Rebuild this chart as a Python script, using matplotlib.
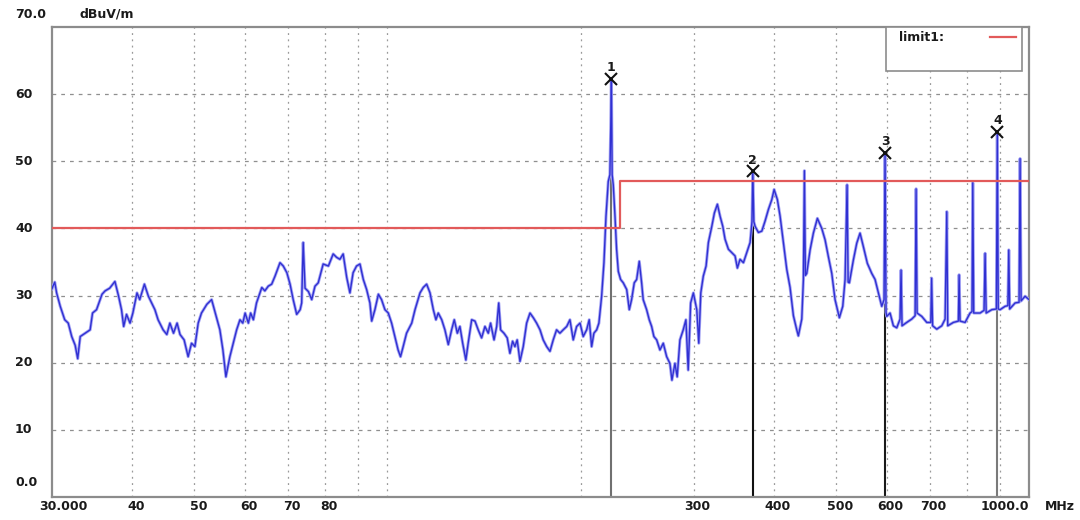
import matplotlib
matplotlib.use('Agg')
import matplotlib.pyplot as plt
from matplotlib.patches import Rectangle

# ---------------- data ----------------
freq_mhz = [
    30.0, 30.1, 30.3, 30.5, 30.9, 31.4, 31.8, 32.2, 32.6, 32.9, 33.2, 33.8, 34.4, 34.7, 35.2,
    35.9, 36.3, 36.9, 37.6, 38.1, 38.5, 38.8, 39.2, 39.7, 40.1, 40.7, 41.1, 41.8, 42.4, 42.9,
    43.4, 43.9, 44.7, 45.3, 45.8, 46.4, 47.0, 47.5, 48.2, 48.9, 49.5, 50.1, 50.7, 51.3, 52.3,
    53.2, 53.9, 54.8, 55.4, 56.0, 56.8, 57.5, 58.2,
    58.9, 59.5, 60.0, 60.7, 61.2, 61.8, 62.5, 63.7, 64.4, 65.2, 66.0, 66.8, 68.0, 68.8, 69.7,
    70.5, 71.3, 72.2, 73.1, 73.5, 73.9, 74.4, 75.3, 76.2, 77.1, 78.0, 79.4, 80.9, 82.3, 83.3,
    84.3, 85.3, 86.4, 87.4, 88.4, 89.5, 90.6, 91.7, 92.8, 93.9, 94.5, 95.6, 96.8, 97.9, 99.1,
    100.3, 101.5, 102.7, 103.9, 104.8, 105.8, 107.1, 109.1, 110.4, 112.4,
    113.7, 115.1, 116.5, 117.9, 119.0, 120.0, 121.5, 122.9, 124.4, 125.9, 127.1, 128.5, 129.7,
    131.0, 132.5, 133.6, 135.3, 136.9, 138.5, 140.2, 141.9, 143.6, 144.8, 146.6, 148.0, 149.1,
    150.1, 151.9, 153.7, 155.2, 156.7, 158.0, 159.3, 160.9, 162.8, 164.8, 166.8, 168.8, 170.8,
    172.9, 174.9, 177.1, 179.2, 181.3, 183.5, 185.7, 187.9, 190.3, 192.5, 194.8, 197.2, 199.6,
    201.9, 204.4, 206.3, 208.1, 209.8, 211.9, 213.6, 215.7, 217.5, 219.1, 220.9, 222.2, 222.9,
    223.4, 224.0, 224.9, 226.3, 227.6, 229.0, 230.9, 233.1, 236.0, 238.2, 240.2, 242.5, 244.6,
    246.9, 249.0, 250.4, 253.5, 255.9, 258.1, 260.2, 262.8, 265.9, 269.1, 272.4, 275.6, 277.6,
    280.6, 282.9, 285.7, 289.1, 291.9, 294.3, 296.9, 299.8, 303.5, 305.7, 307.9, 310.7, 313.8,
    316.4, 320.3, 323.3, 326.8, 330.0, 333.2, 335.9, 340.0, 344.1, 348.2, 351.1, 354.5, 358.8,
    363.2, 367.5, 370.0, 371.1, 372.5, 374.2, 378.6, 383.3, 387.8, 392.4, 397.3, 400.6, 405.3,
    409.3, 414.1, 419.2, 424.2, 429.3, 434.5, 437.0, 442.4, 445.0, 446.6, 448.2, 450.4, 455.8,
    461.2, 467.9, 475.3, 481.0, 486.7, 492.7, 498.5, 506.3, 512.5, 516.8, 520.5, 522.5, 524.8,
    532.4, 538.9, 545.3, 551.8, 559.8, 568.7, 575.5, 582.4, 589.5, 594.4, 596.5, 598.6, 600.2,
    607.3, 614.6, 622.1, 629.5, 631.8, 634.0, 644.8, 656.5, 664.5, 666.8, 669.2, 680.5, 692.9,
    702.9, 705.0, 707.5, 718.2, 731.2, 740.0, 744.5, 747.0, 762.3, 776.1, 778.1, 780.8, 795.0,
    809.4, 815.0, 817.3, 820.0, 839.0, 851.0, 854.2, 857.5, 875.0, 889.5, 892.5, 895.5, 901.4,
    917.7, 927.0, 930.0, 933.0, 951.3, 965.0, 968.5, 972.0, 986.0, 1000.0,
]
level_dbuv = [
    31.0, 31.4, 32.0, 30.4, 28.4, 26.4, 25.9, 23.9, 22.6, 20.6, 23.9, 24.4, 24.9, 27.4, 27.9,
    30.2, 30.7, 31.1, 32.1, 29.9, 27.9, 25.4, 27.2, 25.9, 27.4, 30.4, 29.4, 31.7, 29.9, 28.9,
    27.9, 26.4, 24.9, 24.2, 25.9, 24.4, 25.9, 24.2, 23.4, 20.9, 22.9, 22.4, 25.9, 27.4, 28.7,
    29.4, 27.4, 24.9, 21.9, 17.9, 20.9, 22.9, 24.9,
    26.4, 25.9, 27.4, 25.9, 27.4, 26.4, 28.9, 31.2, 30.7, 31.4, 31.7, 32.9, 34.9, 34.4, 33.4,
    31.7, 29.4, 27.2, 27.9, 28.9, 37.9, 31.1, 30.6, 29.4, 31.4, 31.9, 34.7, 34.4, 36.2, 35.7,
    35.4, 36.2, 32.7, 30.4, 33.4, 34.4, 34.7, 32.4, 30.9, 28.9, 26.2, 27.9, 30.2, 29.4, 27.9,
    27.4, 25.9, 23.9, 21.9, 20.9, 22.4, 24.4, 25.9, 27.9, 30.4,
    31.2, 31.7, 30.4, 27.9, 26.4, 27.4, 26.4, 24.9, 22.7, 24.9, 26.4, 24.4, 25.4,
    22.9, 20.4, 22.9, 26.4, 26.2, 24.9, 23.7, 25.4, 24.4, 25.9, 23.4, 25.4, 28.9,
    24.9, 24.4, 23.7, 21.4, 23.2, 22.4, 23.4, 20.2, 22.4, 25.9, 27.4, 26.7, 25.9,
    24.9, 23.4, 22.4, 21.7, 23.4, 24.9, 24.4, 24.9, 25.4, 26.4, 23.4, 25.4, 25.9,
    23.9, 24.9, 26.4, 22.4, 24.4, 24.9, 25.9, 29.9, 34.9, 41.8, 47.0, 48.0, 55.5,
    62.3, 48.0, 46.5, 41.8, 36.9, 33.6, 32.4, 31.9, 30.9, 27.9, 29.4, 31.9, 32.4,
    35.1, 31.9, 29.4, 27.9, 26.4, 25.4, 23.9, 23.4, 21.9, 22.9, 20.9, 19.9, 17.4,
    19.9, 17.9, 23.4, 24.9, 26.4, 18.9, 28.9, 30.4, 27.9, 22.9, 30.4, 32.9, 34.4,
    37.9, 40.3, 42.3, 43.6, 41.8, 40.3, 38.4, 36.9, 36.4, 35.9, 34.1, 35.4, 34.9,
    36.4, 37.9, 41.0, 48.5, 41.0, 40.3, 39.4, 39.6, 41.1, 42.8, 44.3, 45.8, 44.3,
    41.8, 37.9, 33.9, 31.2, 27.0, 24.9, 24.0, 26.5, 32.4, 48.6, 33.0, 33.3, 36.8,
    39.3, 41.5, 40.0, 38.3, 35.8, 33.3, 29.4, 26.7, 28.4, 32.4, 46.5, 32.0, 31.9,
    35.3, 37.8, 39.3, 37.3, 34.8, 33.3, 32.4, 30.4, 28.4, 29.4, 51.3, 27.5, 26.9,
    27.4, 25.5, 25.2, 26.5, 33.8, 25.5, 26.0, 26.5, 27.0, 45.9, 27.4, 26.9, 26.0,
    26.0, 32.6, 25.5, 25.0, 25.5, 26.5, 42.5, 25.5, 26.0, 26.2, 33.1, 26.2, 26.0,
    27.4, 27.6, 46.8, 27.4, 27.4, 27.8, 36.3, 27.4, 27.9, 28.0, 54.4, 28.0, 27.9,
    28.4, 28.5, 36.8, 28.0, 28.9, 29.0, 50.4, 29.2, 29.9, 29.4,
]

limit_freq = [30, 230, 230, 1000]
limit_level = [40, 40, 47, 47]

marker_ids = ['1', '2', '3', '4']
marker_freq = [223.4, 371.1, 596.5, 892.5]
marker_level = [62.3, 48.5, 51.3, 54.4]
marker_line_colors = ['#707070', '#111111', '#1a1a1a', '#7a7a7a']

y_tick_vals = [10, 20, 30, 40, 50, 60]
x_label_pos = [30, 40, 50, 60, 70, 80, 300, 400, 500, 600, 700, 1000]
x_label_txt = ['30.000', '40', '50', '60', '70', '80', '300', '400', '500', '600', '700', '1000.0']
grid_x = [40, 50, 60, 70, 80, 90, 100, 200, 300, 400, 500, 600, 700, 800, 900]
grid_y = [10, 20, 30, 40, 50, 60]

# ---------------- figure ----------------
TXT = '#1a1a1a'
FS = 9

fig = plt.figure(figsize=(10.8, 5.2), dpi=100)
fig.patch.set_facecolor('white')
ax = fig.add_axes([52 / 1080, 23 / 520, 977 / 1080, 470 / 520])
ax.set_xscale('log')
ax.set_xlim(30, 1000)
ax.set_ylim(0, 70)
ax.set_xticks([])
ax.set_yticks([])
ax.minorticks_off()
ax.tick_params(which='both', length=0, labelbottom=False, labelleft=False)
for s in ax.spines.values():
    s.set_color('#8c8c8c')
    s.set_linewidth(1.6)

# grid
for g in grid_y:
    ax.axhline(g, color='#8f8f8f', lw=0.9, ls=(0, (3, 4)), zorder=0)
for g in grid_x:
    ax.axvline(g, color='#9a9a9a', lw=0.9, ls=(0, (1.5, 3.5)), zorder=0)

# marker lines
ax.vlines(marker_freq, 0, marker_level, colors=marker_line_colors, lw=1.5, zorder=2)

# trace
ax.plot(freq_mhz, level_dbuv, color='#a4a4f4', lw=2.2, zorder=3, solid_joinstyle='round')
ax.plot(freq_mhz, level_dbuv, color='#3030d2', lw=1.0, zorder=3.2)

# limit line
ax.plot(limit_freq, limit_level, color='#e25a5a', lw=1.6, zorder=4)

# markers
ax.plot(marker_freq, marker_level, ls='none', marker='x', ms=8.5, mew=1.5,
        color='#111111', zorder=6)
for mid, f, v in zip(marker_ids, marker_freq, marker_level):
    ax.annotate(mid, xy=(f, v), xytext=(0, 11), textcoords='offset pixels',
                ha='center', va='center', fontsize=FS, fontweight='bold', color=TXT,
                zorder=6)

# y labels
for v in y_tick_vals:
    ax.annotate(str(v), xy=(0, v), xycoords=('axes fraction', 'data'),
                xytext=(-37, 0), textcoords='offset pixels', ha='left', va='center',
                fontsize=FS, fontweight='bold', color=TXT, annotation_clip=False)
ax.annotate('70.0', xy=(0, 70), xycoords=('axes fraction', 'data'),
            xytext=(-37, 13), textcoords='offset pixels', ha='left', va='center',
            fontsize=FS, fontweight='bold', color=TXT, annotation_clip=False)
ax.annotate('0.0', xy=(0, 0), xycoords=('axes fraction', 'data'),
            xytext=(-37, 14), textcoords='offset pixels', ha='left', va='center',
            fontsize=FS, fontweight='bold', color=TXT, annotation_clip=False)
ax.annotate('dBuV/m', xy=(0, 70), xycoords=('axes fraction', 'data'),
            xytext=(28, 13), textcoords='offset pixels', ha='left', va='center',
            fontsize=FS, fontweight='bold', color=TXT, annotation_clip=False)

# x labels
for f, t in zip(x_label_pos, x_label_txt):
    if t == '30.000':
        ha, dx = 'center', 11
    elif t == '1000.0':
        ha, dx = 'right', 0
    else:
        ha, dx = 'center', 4
    ax.annotate(t, xy=(f, 0), xycoords=('data', 'axes fraction'),
                xytext=(dx, -3), textcoords='offset pixels', ha=ha, va='top',
                fontsize=FS, fontweight='bold', color=TXT, annotation_clip=False)
ax.annotate('MHz', xy=(1, 0), xycoords='axes fraction', xytext=(16, -3),
            textcoords='offset pixels', ha='left', va='top', fontsize=FS,
            fontweight='bold', color=TXT, annotation_clip=False)

# legend box
ax.add_patch(Rectangle((0.8536, 0.9064), 0.1392, 0.0936, transform=ax.transAxes,
                       facecolor='white', edgecolor='#8c8c8c', lw=1.2, zorder=7))
ax.text(0.867, 0.978, 'limit1:', transform=ax.transAxes, ha='left', va='center',
        fontsize=FS, fontweight='bold', color=TXT, zorder=8)
ax.plot([0.960, 0.9867], [0.978, 0.978], transform=ax.transAxes,
        color='#e25a5a', lw=1.6, zorder=8)

fig.savefig('out.png', dpi=100, facecolor='white')
